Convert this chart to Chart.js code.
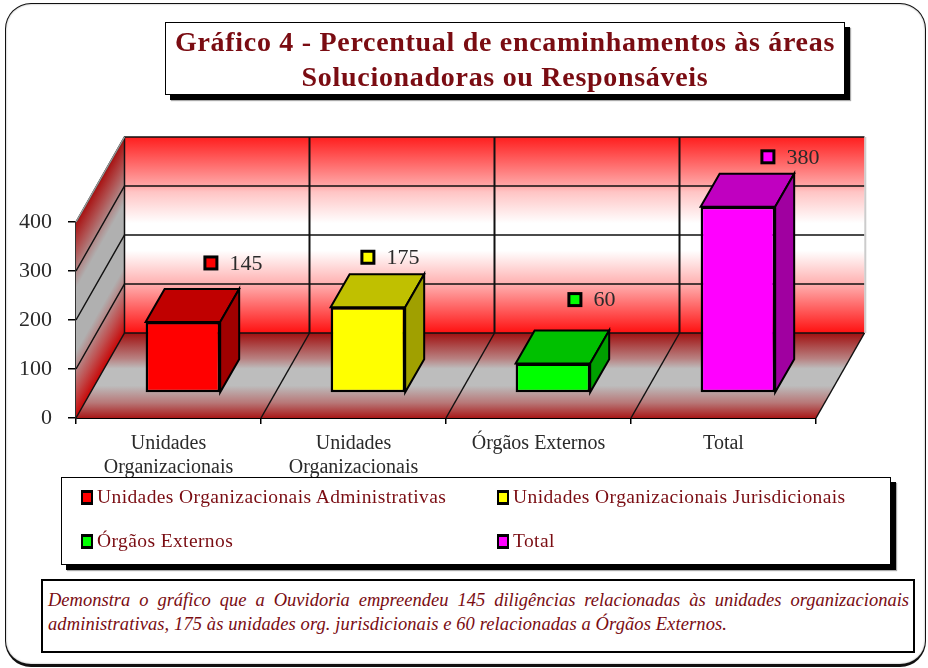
<!DOCTYPE html>
<html lang="pt">
<head>
<meta charset="utf-8">
<title>Gráfico 4</title>
<script src="https://cdn.jsdelivr.net/npm/chart.js@4/dist/chart.umd.min.js"></script>
<style>
html,body{margin:0;padding:0;background:#fff;width:928px;height:668px;overflow:hidden}
body{position:relative;font-family:"Liberation Serif",serif;color:#7a0c12}
#frame{position:absolute;left:5px;top:3px;width:919px;height:660px;border:1.5px solid #111;border-bottom-width:3px;border-radius:26px;box-shadow:inset 0 0 2px #999}
canvas{position:absolute;left:0;top:0}
.box{position:absolute;background:#fff;box-sizing:border-box}
#title{left:165px;top:22px;width:680px;height:73px;border:1px solid #000;box-shadow:5px 5px 0 #000,6px 6px 1px #aaa;text-align:center;font-weight:bold;font-size:28px;line-height:35px;padding-top:1px;letter-spacing:.7px;white-space:nowrap}
#legend{left:61px;top:477px;width:830px;height:88px;border:1px solid #000;box-shadow:5px 5px 0 #000,6px 6px 1px #aaa}
.li{position:absolute;font-size:19.5px;line-height:22px;white-space:nowrap;letter-spacing:.4px}
.li i{position:absolute;left:-16px;top:4px;width:8px;height:9px;border:2px solid #000;border-width:3px 2px}
#note{left:41px;top:579px;width:874px;height:74px;border:2px solid #000;font-style:italic;font-size:18.5px;line-height:24px;padding:7px 4px 0 5px}
#note div{text-align:justify;text-align-last:justify;white-space:normal}
#note div+div{text-align-last:left;letter-spacing:.1px}
</style>
</head>
<body>
<div id="frame"></div>
<canvas id="c" width="928" height="668"></canvas>
<div class="box" id="title">Gráfico 4 - Percentual de encaminhamentos às áreas<br>Solucionadoras ou Responsáveis</div>
<div class="box" id="legend"></div>
<div class="box" id="note"><div>Demonstra o gráfico que a Ouvidoria empreendeu 145 diligências relacionadas às unidades organizacionais</div><div>administrativas, 175 às unidades org. jurisdicionais e 60 relacionadas a Órgãos Externos.</div></div>
<script>
const categories = [["Unidades","Organizacionais"],["Unidades","Organizacionais"],"Órgãos Externos","Total"];
const values = [145,175,60,380];
const legendLabels = ["Unidades Organizacionais Administrativas","Unidades Organizacionais Jurisdicionais","Órgãos Externos","Total"];
const frontColors = ["#ff0000","#ffff00","#00ff00","#ff00ff"];
const topColors = ["#c00000","#c0c000","#00c000","#c000c0"];
const sideColors = ["#a00000","#a0a000","#00a000","#a000a0"];
const yTicks = [0,100,200,300,400];

// legend
const legendPos=[[35,8],[451,8],[35,52],[451,52]];
const lg=document.getElementById('legend');
legendLabels.forEach((t,i)=>{
  const d=document.createElement('div');d.className='li';
  d.style.left=legendPos[i][0]+'px';d.style.top=legendPos[i][1]+'px';
  d.textContent=t;
  const m=document.createElement('i');m.style.background=frontColors[i];d.appendChild(m);
  lg.appendChild(d);
});

// geometry of the pseudo-3D box
const WALL_DX=48.5, WALL_DY=-85;
const BAR_DX=14.4, BAR_DY=-25;
const DEPTH_DX=19, DEPTH_DY=-33;
const labelNudge=[[28,-59],[0,-50],[22,-64],[30,-50]];

function poly(ctx,pts){ctx.beginPath();pts.forEach((p,i)=>i?ctx.lineTo(p[0],p[1]):ctx.moveTo(p[0],p[1]));ctx.closePath();}

const box3d={
  id:'box3d',
  beforeDatasetsDraw(chart){
    const {ctx,chartArea:a,scales:{x,y}}=chart;
    const L=a.left,R=a.right,T=a.top,B=a.bottom,dx=WALL_DX,dy=WALL_DY;
    ctx.save();
    // back wall
    let g=ctx.createLinearGradient(0,T+dy,0,B+dy);
    [[0,'#ff1e1e'],[.25,'#ffa8a8'],[.28,'#ffc4c4'],[.44,'#ffffff'],[.58,'#ffffff'],[.75,'#ffb0b0'],[1,'#ff1010']].forEach(s=>g.addColorStop(s[0],s[1]));
    ctx.fillStyle=g;ctx.fillRect(L+dx,T+dy,R-L,B-T);
    // floor
    g=ctx.createLinearGradient(0,B+dy,0,B);
    [[0,'#a01010'],[.3,'#b88080'],[.42,'#bdbdbd'],[.62,'#bdbdbd'],[.82,'#b87878'],[1,'#a81818']].forEach(s=>g.addColorStop(s[0],s[1]));
    ctx.fillStyle=g;poly(ctx,[[L,B],[R,B],[R+dx,B+dy],[L+dx,B+dy]]);ctx.fill();
    // left wall (sheared gradient)
    ctx.save();
    ctx.transform(1,dy/dx,0,1,L,T);
    g=ctx.createLinearGradient(0,0,0,B-T);
    [[0,'#a81010'],[.14,'#b05050'],[.34,'#b0b0b0'],[.66,'#b0b0b0'],[.86,'#c05050'],[1,'#c80808']].forEach(s=>g.addColorStop(s[0],s[1]));
    ctx.fillStyle=g;ctx.fillRect(0,0,dx,B-T);
    ctx.restore();
    // grid
    ctx.strokeStyle='#111';ctx.lineCap='butt';ctx.lineWidth=1.5;
    y.ticks.forEach(t=>{
      const p=y.getPixelForValue(t.value);
      ctx.beginPath();ctx.moveTo(L,p);ctx.lineTo(L+dx,p+dy);ctx.lineTo(R+dx,p+dy);ctx.stroke();
    });
    for(let i=1;i<categories.length;i++){
      const p=x.getPixelForValue(i)-(x.getPixelForValue(1)-x.getPixelForValue(0))/2;
      ctx.lineWidth=1.5;ctx.beginPath();ctx.moveTo(p,B);ctx.lineTo(p+dx,B+dy);ctx.stroke();
      ctx.lineWidth=2;ctx.beginPath();ctx.moveTo(p+dx,B+dy);ctx.lineTo(p+dx,T+dy);ctx.stroke();
    }
    ctx.lineWidth=1.5;
    ctx.beginPath();ctx.moveTo(L+dx,T+dy);ctx.lineTo(L+dx,B+dy);ctx.stroke();
    ctx.beginPath();ctx.moveTo(R,B);ctx.lineTo(R+dx,B+dy);ctx.stroke();
    ctx.strokeStyle='#999';
    ctx.beginPath();ctx.moveTo(L,T);ctx.lineTo(L+dx,T+dy);ctx.stroke();
    ctx.strokeStyle='#ccc';ctx.lineWidth=2;
    ctx.beginPath();ctx.moveTo(R+dx+.8,T+dy);ctx.lineTo(R+dx+.8,B+dy);ctx.stroke();
    ctx.restore();
    // bars and their faces sit inside the box
    ctx.save();ctx.translate(BAR_DX,BAR_DY);
    const meta=chart.getDatasetMeta(0);
    meta.data.forEach((b,i)=>{
      const l=b.x-b.width/2,r=b.x+b.width/2,t=b.y,bt=b.base;
      ctx.lineWidth=2;ctx.strokeStyle='#000';ctx.lineJoin='miter';
      ctx.fillStyle=topColors[i];poly(ctx,[[l,t],[r,t],[r+DEPTH_DX,t+DEPTH_DY],[l+DEPTH_DX,t+DEPTH_DY]]);ctx.fill();ctx.stroke();
      ctx.fillStyle=sideColors[i];poly(ctx,[[r,t],[r+DEPTH_DX,t+DEPTH_DY],[r+DEPTH_DX,bt+DEPTH_DY],[r,bt]]);ctx.fill();ctx.stroke();
    });
  },
  afterDatasetsDraw(chart){
    const ctx=chart.ctx;
    ctx.restore();
    const meta=chart.getDatasetMeta(0);
    ctx.save();
    ctx.font='22px "Liberation Serif"';ctx.textBaseline='middle';ctx.textAlign='left';
    meta.data.forEach((b,i)=>{
      const cx=b.x+BAR_DX+labelNudge[i][0], cy=b.y+BAR_DY+labelNudge[i][1];
      ctx.fillStyle=frontColors[i];ctx.strokeStyle='#000';ctx.lineWidth=3;
      ctx.fillRect(cx-6,cy-6,12,12);ctx.strokeRect(cx-6,cy-6,12,12);
      ctx.fillStyle='#2a2a2a';ctx.fillText(String(values[i]),cx+18.5,cy+1);
    });
    ctx.restore();
  }
};

new Chart(document.getElementById('c'),{
  type:'bar',
  data:{labels:categories,datasets:[{data:values,backgroundColor:frontColors,borderColor:'#000',borderWidth:2.5,borderSkipped:false,barPercentage:1,categoryPercentage:.403,clip:false}]},
  options:{
    responsive:false,animation:false,
    layout:{padding:{top:222,right:112,left:0,bottom:0},autoPadding:false},
    plugins:{legend:{display:false},tooltip:{enabled:false},title:{display:false}},
    scales:{
      x:{
        afterFit(s){s.height=250;},
        grid:{drawOnChartArea:false,color:'#000',tickLength:6,lineWidth:1.5},
        border:{color:'#000',width:2},
        ticks:{color:'#2a2a2a',font:{family:'"Liberation Serif"',size:20,lineHeight:1.2},maxRotation:0,autoSkip:false,padding:8}
      },
      y:{
        min:0,max:400,
        afterFit(s){s.width=76;},
        afterBuildTicks(s){s.ticks=yTicks.map(v=>({value:v}));},
        grid:{drawOnChartArea:false,color:'#000',tickLength:8,lineWidth:1.5},
        border:{color:'#333',width:2},
        ticks:{color:'#2a2a2a',font:{family:'"Liberation Serif"',size:22},padding:16}
      }
    }
  },
  plugins:[box3d]
});
</script>
</body>
</html>
